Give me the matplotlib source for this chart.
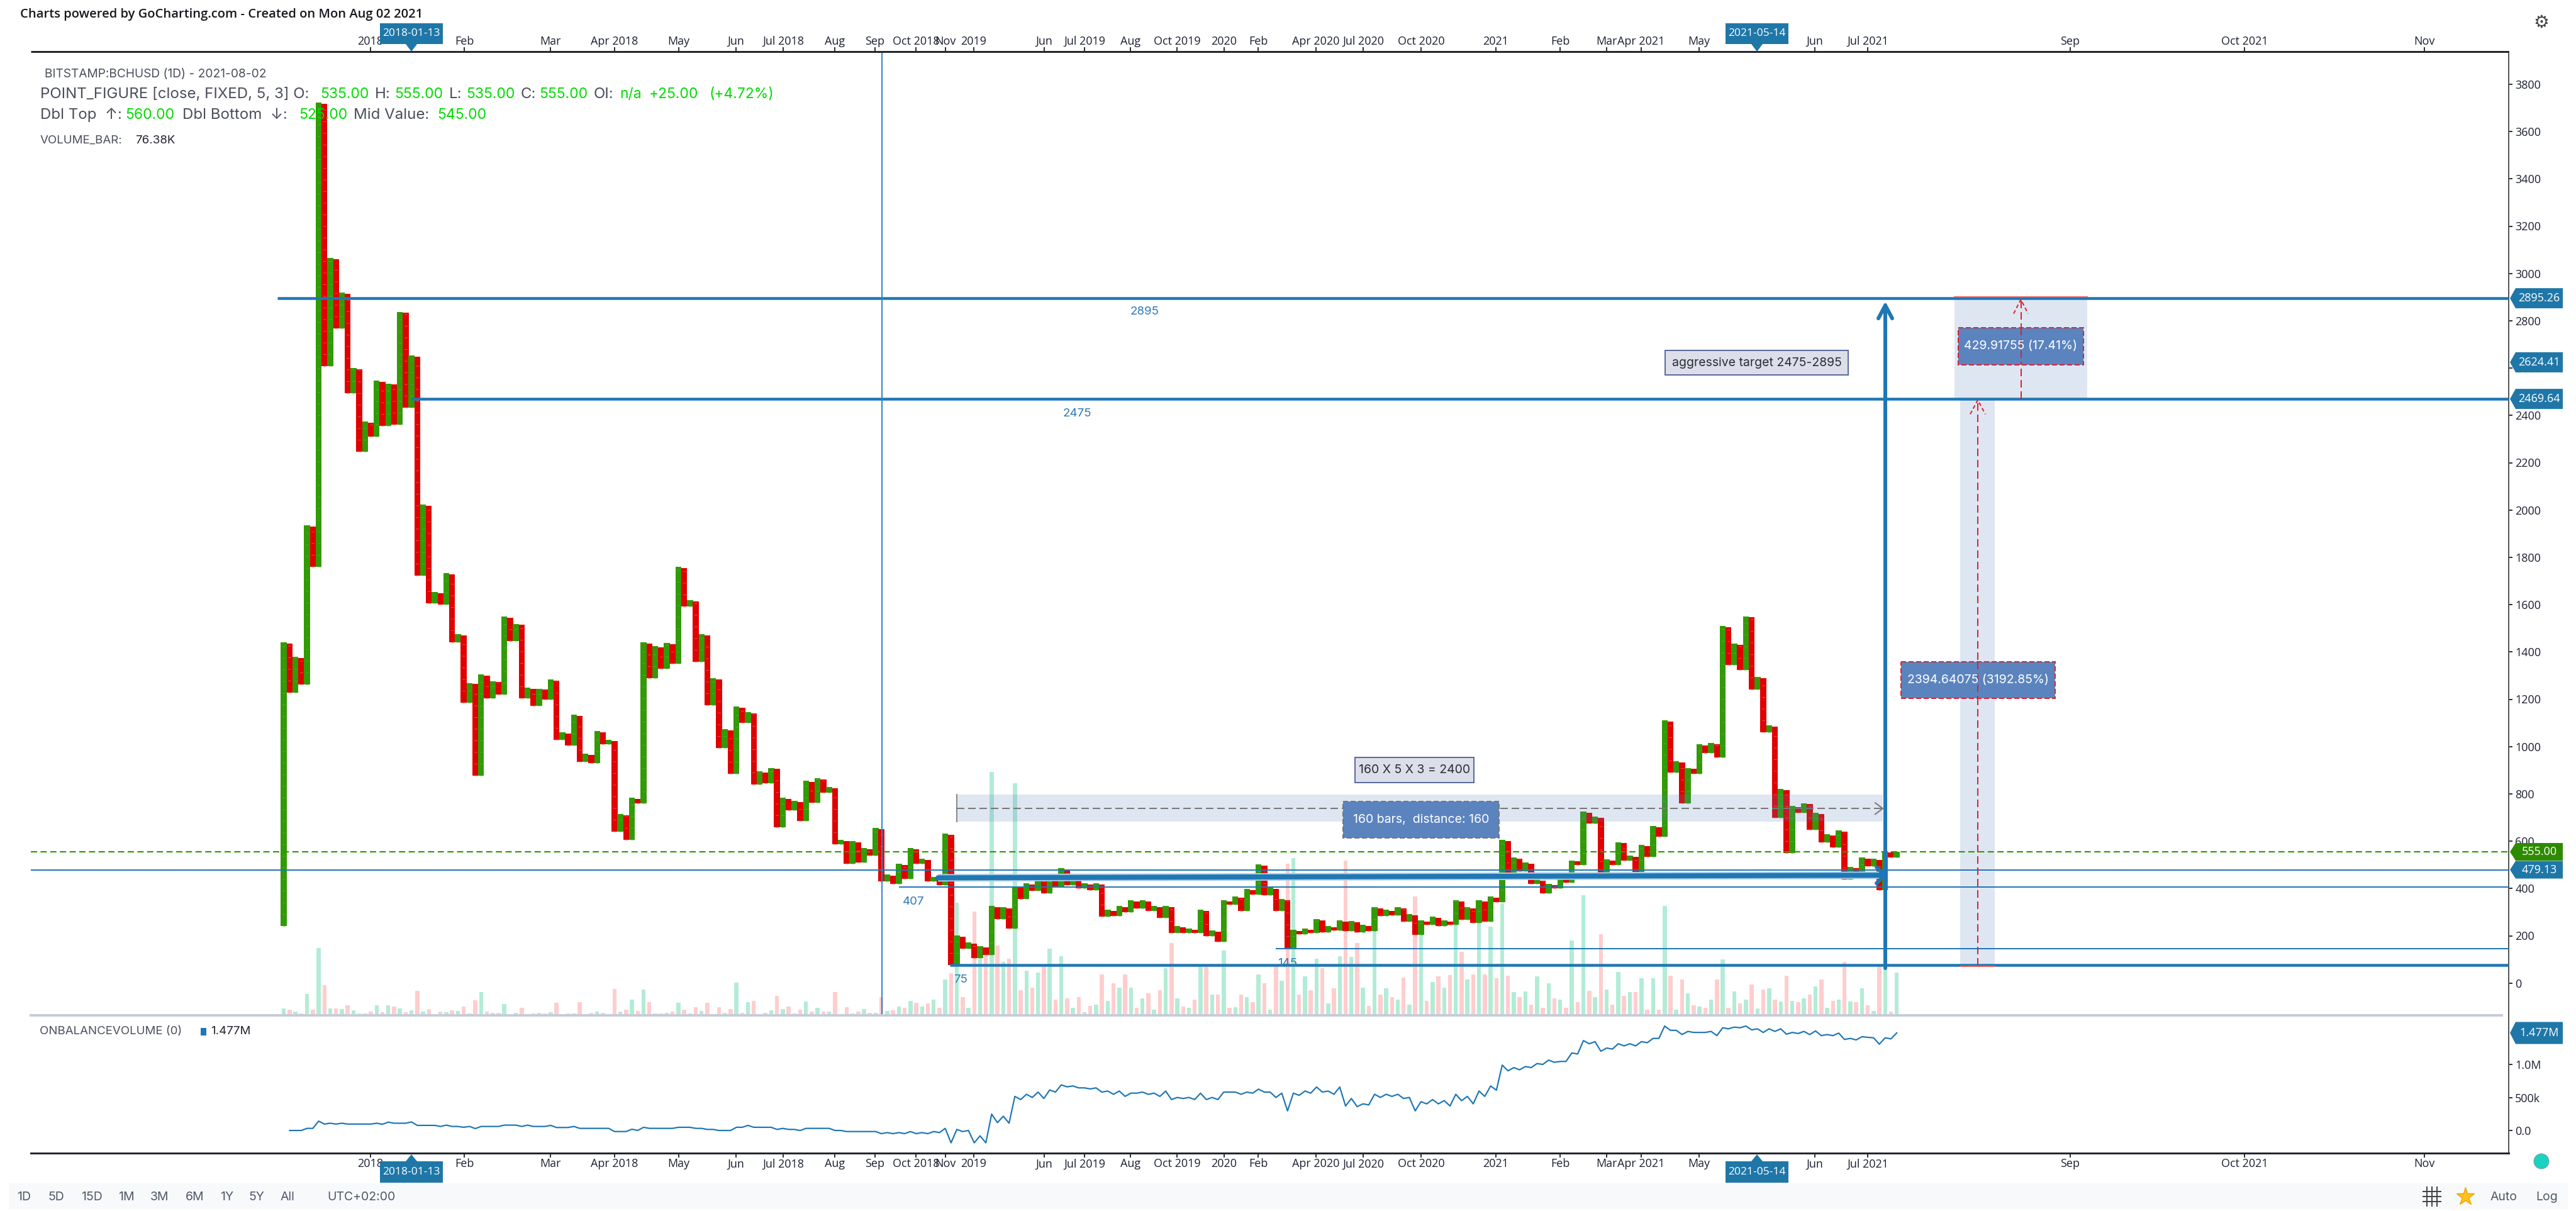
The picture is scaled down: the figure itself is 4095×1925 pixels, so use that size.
import numpy as np
import matplotlib
matplotlib.use('Agg')
import matplotlib.pyplot as plt
from matplotlib.patches import Polygon, Rectangle, Circle

W, H = 4095, 1925

# point & figure columns: end price of each column, even = X up, odd = O down
first_low = 240
column_ends = [
    1440, 1229, 1379, 1262, 1935, 1759, 3722, 2607, 3066, 2767,
    2919, 2494, 2600, 2246, 2375, 2310, 2547, 2355, 2535, 2360,
    2838, 2434, 2654, 1723, 2023, 1606, 1653, 1601, 1733, 1440,
    1474, 1185, 1269, 876, 1305, 1205, 1277, 1219, 1550, 1445,
    1519, 1203, 1248, 1171, 1245, 1198, 1284, 1029, 1060, 1005,
    1135, 935, 969, 929, 1065, 1010, 1029, 640, 714, 605,
    784, 761, 1440, 1288, 1424, 1329, 1438, 1350, 1759, 1593,
    1619, 1359, 1474, 1174, 1290, 995, 1074, 884, 1169, 1100,
    1145, 840, 895, 845, 910, 658, 784, 730, 771, 685,
    855, 763, 866, 805, 830, 586, 605, 505, 600, 510,
    570, 540, 655, 429, 460, 420, 505, 440, 570, 505,
    525, 429, 450, 415, 632, 76, 202, 145, 171, 105,
    156, 120, 326, 270, 322, 230, 410, 355, 421, 390,
    461, 379, 437, 408, 486, 415, 437, 401, 421, 394,
    421, 280, 311, 285, 326, 300, 351, 315, 351, 304,
    326, 275, 326, 211, 242, 211, 231, 211, 311, 200,
    222, 175, 351, 331, 366, 306, 397, 374, 501, 371,
    403, 306, 356, 147, 226, 207, 231, 211, 271, 215,
    242, 222, 266, 220, 262, 215, 246, 220, 322, 285,
    311, 286, 322, 260, 291, 205, 266, 246, 280, 240,
    266, 246, 351, 269, 320, 255, 351, 260, 366, 341,
    605, 460, 531, 473, 509, 420, 439, 380, 420, 400,
    445, 426, 519, 500, 725, 674, 704, 464, 524, 500,
    596, 519, 538, 471, 585, 534, 665, 620, 1110, 890,
    939, 760, 910, 884, 1010, 973, 1015, 953, 1510, 1345,
    1435, 1323, 1551, 1240, 1295, 1060, 1090, 700, 820, 551,
    750, 719, 761, 649, 720, 595, 630, 574, 646, 439,
    490, 452, 531, 495, 525, 394, 557, 530, 555,
]

# volume in thousands
volumes = [
    12, 10, 7, 3, 38, 10, 120, 54, 12, 12, 11, 18, 9, 3, 3, 7, 18, 6, 18, 16,
    12, 6, 9, 44, 7, 11, 2, 7, 6, 9, 8, 16, 3, 27, 41, 7, 4, 5, 20, 2,
    4, 13, 2, 3, 4, 3, 6, 22, 2, 3, 3, 24, 2, 5, 7, 5, 1, 47, 7, 10,
    28, 8, 46, 24, 3, 3, 5, 7, 22, 10, 3, 15, 8, 22, 2, 15, 4, 11, 58, 5,
    24, 26, 2, 4, 9, 35, 11, 16, 3, 10, 25, 7, 13, 7, 7, 42, 2, 15, 3, 7,
    11, 5, 5, 33, 8, 9, 16, 13, 26, 22, 16, 21, 28, 13, 64, 75, 201, 33, 13, 185,
    101, 106, 433, 124, 95, 101, 413, 45, 80, 49, 76, 88, 119, 28, 105, 30, 13, 33, 6, 17,
    19, 73, 26, 57, 49, 73, 49, 13, 30, 39, 10, 45, 84, 129, 30, 16, 13, 28, 88, 88,
    37, 37, 115, 13, 15, 37, 33, 24, 73, 57, 10, 88, 62, 270, 280, 37, 69, 45, 101, 84,
    21, 48, 105, 275, 104, 129, 49, 17, 152, 37, 48, 32, 28, 67, 19, 212, 146, 26, 59, 69,
    49, 72, 162, 113, 64, 73, 167, 73, 158, 66, 199, 71, 41, 32, 43, 19, 70, 13, 57, 30,
    28, 13, 133, 23, 214, 44, 32, 144, 46, 19, 77, 35, 41, 41, 66, 10, 66, 10, 195, 71,
    10, 64, 39, 18, 16, 14, 28, 64, 100, 13, 43, 21, 28, 55, 12, 46, 48, 28, 25, 71,
    26, 23, 30, 37, 51, 64, 13, 26, 28, 95, 25, 23, 48, 18, 8, 87, 82, 7, 76.38,
]

# on balance volume in thousands
obv = [
    0, 0, 0, 0, 32, 32, 142, 97, 110, 97, 110, 97, 97, 97, 97, 97, 110, 94, 126, 110,
    110, 110, 129, 77, 77, 77, 77, 61, 81, 61, 61, 48, 61, 29, 61, 61, 61, 61, 81, 81,
    81, 61, 81, 61, 61, 61, 77, 45, 45, 45, 61, 32, 32, 32, 32, 32, 32, -16, -16, -16,
    19, 0, 48, 32, 32, 32, 32, 32, 48, 48, 48, 32, 32, 16, 16, 0, 0, 0, 48, 48,
    77, 48, 48, 48, 48, 16, 32, 16, 16, 0, 32, 32, 32, 32, 32, 0, 0, -16, -16, -16,
    -16, -16, -16, -48, -32, -48, -32, -48, -16, -48, -32, -48, -16, -32, 32, -187, 16, -16, 0, -187,
    -81, -187, 248, 119, 216, 110, 516, 468, 548, 500, 581, 484, 613, 581, 690, 661, 674, 645, 645, 629,
    645, 581, 597, 548, 597, 516, 565, 565, 581, 548, 565, 516, 597, 468, 500, 484, 500, 468, 565, 468,
    500, 468, 581, 581, 581, 548, 581, 565, 626, 581, 581, 500, 565, 297, 565, 532, 597, 565, 658, 581,
    597, 548, 658, 371, 484, 361, 403, 387, 548, 500, 548, 516, 548, 484, 500, 297, 436, 403, 468, 403,
    452, 371, 548, 452, 516, 403, 597, 516, 674, 610, 990, 903, 952, 919, 968, 952, 1013, 1000, 1065, 1032,
    1045, 1045, 1174, 1158, 1361, 1313, 1345, 1200, 1248, 1232, 1313, 1281, 1313, 1281, 1345, 1329, 1394, 1394, 1581, 1516,
    1516, 1452, 1500, 1484, 1484, 1484, 1500, 1436, 1555, 1539, 1565, 1555, 1581, 1523, 1539, 1484, 1539, 1500, 1539, 1458,
    1484, 1468, 1500, 1452, 1507, 1436, 1452, 1436, 1474, 1378, 1394, 1371, 1419, 1410, 1403, 1307, 1403, 1387, 1477,
]

# date axis, pixel positions of the labels
date_labels = ['2018', 'Feb', 'Mar', 'Apr 2018', 'May', 'Jun', 'Jul 2018', 'Aug', 'Sep', 'Oct 2018',
               'Nov', '2019', 'Jun', 'Jul 2019', 'Aug', 'Oct 2019', '2020', 'Feb', 'Apr 2020', 'Jul 2020',
               'Oct 2020', '2021', 'Feb', 'Mar', 'Apr 2021', 'May', 'Jun', 'Jul 2021', 'Sep', 'Oct 2021', 'Nov']
date_px = [589, 738, 875, 977, 1079, 1170, 1245, 1327, 1391, 1456,
           1503, 1548, 1660, 1724, 1797, 1871, 1946, 2000, 2092, 2167,
           2259, 2378, 2480, 2554, 2609, 2701, 2885, 2969, 3291, 3568, 3854]
price_ticks = list(range(0, 3801, 200))
obv_ticks = [0, 500, 1000]
obv_tick_labels = ['0.0', '500k', '1.0M']

BLUE = '#1f77b4'
GREEN = '#329a06'
RED = '#e00000'
BOX = '#5b84bf'
GREY = '#4a4f5a'
LIME = '#00dd00'

# pane geometry in pixels
L, R = 49, 3988
TOP, VOL_BASE, OBV_BASE = 82, 1614, 1833
X0, DX = 451.2, 9.223
PRICE0, PPU = 1562.7, 0.376
OBV0, OPK = 1797.0, 0.105


def cx(px):
    return (np.asarray(px, dtype=float) - X0) / DX


def py(price):
    return PRICE0 - PPU * price


def lw(px):
    return px * 72 / 100


plt.rcParams['font.family'] = ['Open Sans', 'DejaVu Sans']
fig = plt.figure(figsize=(W / 100, H / 100), dpi=100)
fig.patch.set_facecolor('white')


def pane(top, bottom):
    return fig.add_axes([L / W, 1 - bottom / H, (R - L) / W, (bottom - top) / H])


xlim = (cx(L), cx(R))

# volume sits under the price pane
vol_ax = pane(TOP, VOL_BASE)
vol_ax.set_xlim(xlim)
vol_ax.set_ylim(0, (VOL_BASE - TOP) * 1.12)
vol_ax.axis('off')
cols = np.arange(len(column_ends))
vol_colors = ['#b3ecd6' if i % 2 == 0 else '#ffcdcd' for i in cols]
vol_ax.bar(cols, volumes, width=0.7, color=vol_colors, linewidth=0)

ax = pane(TOP, VOL_BASE)
ax.patch.set_alpha(0)
ax.set_xlim(xlim)
ax.set_ylim((PRICE0 - VOL_BASE) / PPU, (PRICE0 - TOP) / PPU)

# columns
ends = np.array(column_ends, dtype=float)
starts = np.r_[first_low, ends[:-1]]
up = cols % 2 == 0
lows = np.where(up, starts, ends)
highs = np.where(up, ends, starts - 5)
ax.bar(cols, highs - lows, bottom=lows, width=1.02,
       color=[GREEN if u else RED for u in up], linewidth=0, zorder=3)
# the stacked X and O marks leave small lighter flecks inside the columns
ax.vlines(cols, lows, highs, colors=['#52aa2c' if u else '#f04444' for u in up], lw=lw(5),
          linestyles=[(0, (0.2, 3.5))], capstyle='butt', zorder=3.1)

# shaded ranges
ax.axhspan(682, 797, xmin=(1521 - L) / (R - L), xmax=(2993 - L) / (R - L), color=BOX, alpha=0.2, lw=0, zorder=3.5)
ax.axhspan(75, 2469.64, xmin=(3116 - L) / (R - L), xmax=(3171 - L) / (R - L), color=BOX, alpha=0.2, lw=0, zorder=3.5)
ax.axhspan(2469.64, 2900, xmin=(3107 - L) / (R - L), xmax=(3318 - L) / (R - L), color=BOX, alpha=0.2, lw=0, zorder=3.5)
ax.plot(cx([1521, 1521]), [682, 797], color='#888888', lw=lw(2), zorder=3.6)
ax.plot(cx([1521, 2993]), [738, 738], color='#777777', lw=lw(2), ls=(0, (6, 3)), zorder=3.6)
ax.plot(cx([2981, 2993, 2981]), [762, 738, 714], color='#777777', lw=lw(2), zorder=3.6)

# levels drawn on the chart
level_prices = [2895.26, 2469.64, 479.13, 407, 145, 76]
level_starts = [441, 654, L, 1429, 2028, 1510]
level_widths = [4.5, 4.5, 2, 2, 2, 4.5]
for p, s, w in zip(level_prices, level_starts, level_widths):
    ax.plot(cx([s, R]), [p, p], color=BLUE, lw=lw(w), solid_capstyle='butt', zorder=4)
ax.plot(cx([L, R]), [555, 555], color=GREEN, lw=lw(2.2), ls=(0, (4.5, 2.5)), zorder=4)
ax.plot(cx([1402, 1402]), [ax.get_ylim()[0], ax.get_ylim()[1]], color='#2f86c4', lw=lw(2), zorder=4)

# red measure guides
ax.plot(cx([3144, 3144]), [75, 2465], color='#e0202c', lw=lw(2), ls=(0, (6, 3)), zorder=4.2)
ax.plot(cx([3132, 3144, 3156]), [2405, 2465, 2405], color='#e0202c', lw=lw(2), ls=(0, (3, 2)), zorder=4.2)
ax.plot(cx([3212.5, 3212.5]), [2469, 2890], color='#e0202c', lw=lw(2), ls=(0, (6, 3)), zorder=4.2)
ax.plot(cx([3201, 3212.5, 3224]), [2830, 2890, 2830], color='#e0202c', lw=lw(2), ls=(0, (3, 2)), zorder=4.2)
ax.plot(cx([3107, 3318]), [2900, 2900], color='#e06060', lw=lw(2), zorder=4.2)
ax.plot(cx([3116, 3171]), [70, 70], color='#e06060', lw=lw(2), zorder=4.2)

# thick trend line and the target arrow
ax.plot(cx([1491, 2996]), [445, 456], color='#a8cce6', lw=lw(12), solid_capstyle='butt', zorder=4.3)
ax.plot(cx([1491, 2996]), [445, 456], color=BLUE, lw=lw(8), solid_capstyle='round', zorder=4.4)
ax.plot(cx([2983, 2996, 2983]), [490, 456, 422], color=BLUE, lw=lw(6), solid_capstyle='round', zorder=4.4)
ax.plot(cx([2997, 2997]), [62, 2865], color=BLUE, lw=lw(6), solid_capstyle='round', zorder=4.4)
ax.plot(cx([2986, 2997, 3008]), [2810, 2865, 2810], color=BLUE, lw=lw(6), solid_capstyle='round', zorder=4.4)

for s in ['left', 'bottom', 'top']:
    ax.spines[s].set_visible(False)
ax.spines['right'].set_color('#555555')
ax.spines['right'].set_linewidth(lw(2))
ax.yaxis.tick_right()
ax.set_yticks(price_ticks)
ax.tick_params(axis='y', length=lw(6), width=lw(2), color='#333333', labelsize=13, pad=3, labelcolor='#1c2030')
ax.set_xticks(cx(date_px))
ax.set_xticklabels(date_labels)
ax.xaxis.tick_top()
ax.tick_params(axis='x', length=lw(7), width=lw(2), color='#333333', labelsize=13, pad=0, labelcolor='#1c2030',
               direction='out')

# obv pane, the line starts one column in
ob = pane(VOL_BASE, OBV_BASE)
ob.set_xlim(xlim)
ob.set_ylim((OBV0 - OBV_BASE) / OPK, (OBV0 - VOL_BASE) / OPK)
ob.plot(cols[1:], obv[1:], color=BLUE, lw=lw(2.2), solid_joinstyle='round')
for s in ['left', 'top']:
    ob.spines[s].set_visible(False)
ob.spines['right'].set_color('#555555')
ob.spines['right'].set_linewidth(lw(2))
ob.spines['bottom'].set_color('#22252c')
ob.spines['bottom'].set_linewidth(lw(3))
ob.yaxis.tick_right()
ob.set_yticks(obv_ticks)
ob.set_yticklabels(obv_tick_labels)
ob.tick_params(axis='y', length=lw(6), width=lw(2), color='#333333', labelsize=13, pad=3, labelcolor='#1c2030')
ob.set_xticks(cx(date_px))
ob.set_xticklabels(date_labels)
ob.tick_params(axis='x', length=lw(7), width=lw(2), color='#333333', labelsize=13, pad=1, labelcolor='#1c2030')

# overlay in pixels for the app chrome
ov = fig.add_axes([0, 0, 1, 1], zorder=10)
ov.set_xlim(0, W)
ov.set_ylim(H, 0)
ov.axis('off')
ov.patch.set_alpha(0)

ov.plot([L, R], [TOP, TOP], color='#22252c', lw=lw(3), solid_capstyle='butt')
ov.plot([47, 3979], [VOL_BASE, VOL_BASE], color='#c6ccd8', lw=lw(4), solid_capstyle='butt', zorder=1)
ov.add_patch(Rectangle((14, 1881), 4068, 41, color='#f8f9fb', lw=0, zorder=0))


def txt(x, y, s, color=GREY, size=13, ha='left', family='Inter', **kw):
    return ov.text(x, y, s, color=color, fontsize=size, ha=ha, va='center', family=[family, 'DejaVu Sans'], **kw)


txt(32, 23, 'Charts powered by GoCharting.com - Created on Mon Aug 02 2021', color='#16181d', size=14.5,
    family='Open Sans', weight='semibold')
txt(71, 118, 'BITSTAMP:BCHUSD (1D) - 2021-08-02', size=13.8)

line2 = [(64, 'POINT_FIGURE [close, FIXED, 5, 3] O:', GREY), (509, '535.00', LIME), (596, 'H:', GREY),
         (627, '555.00', LIME), (714, 'L:', GREY), (741, '535.00', LIME), (828, 'C:', GREY),
         (857, '555.00', LIME), (944, 'OI:', GREY), (985, 'n/a', LIME), (1032, '+25.00', LIME),
         (1128, '(+4.72%)', LIME)]
for x, s, c in line2:
    txt(x, 150, s, color=c, size=17.3 if c == GREY else 16.5)
line3 = [(64, 'Dbl Top  \u2191:', GREY), (199, '560.00', LIME), (290, 'Dbl Bottom  \u2193:', GREY),
         (475, '525.00', LIME), (562, 'Mid Value:', GREY), (695, '545.00', LIME)]
for x, s, c in line3:
    txt(x, 183, s, color=c, size=17.3 if c == GREY else 16.5)
txt(64, 223, 'VOLUME_BAR:', size=13.5)
txt(215, 223, '76.38K', color='#22252c', size=13.5)
txt(63, 1640, 'ONBALANCEVOLUME (0)', size=13.5)
ov.add_patch(Rectangle((319, 1634), 9, 12, color=BLUE, lw=0))
txt(335, 1640, '1.477M', color='#22252c', size=13.5)

# notes on the chart
txt(1820, 496, '2895', color='#2a7ab8', size=13.5, ha='center')
txt(1712, 658, '2475', color='#2a7ab8', size=13.5, ha='center')
txt(1452, 1434, '407', color='#2a7ab8', size=13.5, ha='center')
txt(1527, 1557, '75', color='#2a7ab8', size=13.5, ha='center')
txt(2047, 1532, '145', color='#2a7ab8', size=13.5, ha='center')


def note(x0, x1, y0, y1, s):
    ov.add_patch(Rectangle((x0, y0), x1 - x0, y1 - y0, fc='#dcdfe9', ec='#5a6a9a', lw=lw(2)))
    txt((x0 + x1) / 2, (y0 + y1) / 2, s, color='#2a2d36', size=14, ha='center')


def value_box(x0, x1, y0, y1, s, edge):
    ov.add_patch(Rectangle((x0, y0), x1 - x0, y1 - y0, fc=BOX, ec=edge, lw=lw(2), ls=(0, (4, 2))))
    txt((x0 + x1) / 2, (y0 + y1) / 2, s, color='white', size=14, ha='center')


note(2154, 2343, 1204, 1244, '160 X 5 X 3 = 2400')
note(2647, 2938, 557, 596, 'aggressive target 2475-2895')
value_box(2135, 2383, 1274, 1332, '160 bars,  distance: 160', '#777777')
value_box(3022, 3267, 1052, 1110, '2394.64075 (3192.85%)', '#e0202c')
value_box(3113, 3312, 521, 580, '429.91755 (17.41%)', '#e0202c')
# the measure guides run over their own boxes
ov.plot([3144, 3144], [1052, 1110], color='#e0202c', lw=lw(2), ls=(0, (6, 3)))
ov.plot([3212.5, 3212.5], [521, 580], color='#e0202c', lw=lw(2), ls=(0, (6, 3)))


def tag(y, s, color, h=32):
    x0, x1, tip = 3999, 4074, 3990
    ov.add_patch(Polygon([(tip, y), (x0, y - h / 2), (x1, y - h / 2), (x1, y + h / 2), (x0, y + h / 2)],
                         fc=color, ec='none', zorder=5))
    ov.text((x0 + x1) / 2, y, s, color='white', fontsize=13, ha='center', va='center', family='Open Sans', zorder=6)


tag(py(2895.26), '2895.26', '#1f77a8')
tag(py(2624.41), '2624.41', '#1f77a8')
tag(py(2469.64), '2469.64', '#1f77a8')
tag(py(555), '555.00', '#2e8b00', h=28)
tag(py(479.13), '479.13', '#1f77a8', h=28)
tag(1642, '1.477M', '#1f77a8', h=35)


def flag(xc, s):
    x0, x1 = xc - 50, xc + 50
    ov.add_patch(Polygon([(xc, TOP), (xc - 9, 70), (x0, 70), (x0, 37), (x1, 37), (x1, 70), (xc + 9, 70)],
                         fc='#1f77a8', ec='none', zorder=5))
    ov.text(xc, 53, s, color='white', fontsize=12.5, ha='center', va='center', family='Open Sans', zorder=6)
    ov.add_patch(Polygon([(xc, 1835), (xc - 9, 1846), (x0, 1846), (x0, 1880), (x1, 1880), (x1, 1846), (xc + 9, 1846)],
                         fc='#1f77a8', ec='none', zorder=5))
    ov.text(xc, 1863, s, color='white', fontsize=12.5, ha='center', va='center', family='Open Sans', zorder=6)


flag(654, '2018-01-13')
flag(2793, '2021-05-14')

# bottom toolbar
range_labels = ['1D', '5D', '15D', '1M', '3M', '6M', '1Y', '5Y', 'All']
range_px = [38, 89, 146, 201, 254, 310, 361, 408, 457]
for x, s in zip(range_px, range_labels):
    txt(x, 1903, s, size=14, ha='center', color='#505868')
txt(574, 1903, 'UTC+02:00', size=14, ha='center', color='#505868')
txt(3980, 1903, 'Auto', size=14, ha='center', color='#505868')
txt(4049, 1903, 'Log', size=14, ha='center', color='#505868')
for dx in (-8, 0, 8):
    ov.plot([3866 + dx, 3866 + dx], [1887, 1917], color='#444444', lw=lw(2))
for dy in (-8, 0, 8):
    ov.plot([3852, 3880], [1902 + dy, 1902 + dy], color='#444444', lw=lw(2))
ov.plot([3919], [1902], marker='*', ms=21, mfc='#ffc21a', mec='#f0a000', ls='none')
ov.add_patch(Circle((4040, 1846), 12, fc='#19d3c0', ec='#8a9aa0', lw=lw(1)))
ov.text(4040, 36, '\u2699', fontsize=20, ha='center', va='center', color='#444444', family='DejaVu Sans')

fig.savefig('out.png', dpi=100)
